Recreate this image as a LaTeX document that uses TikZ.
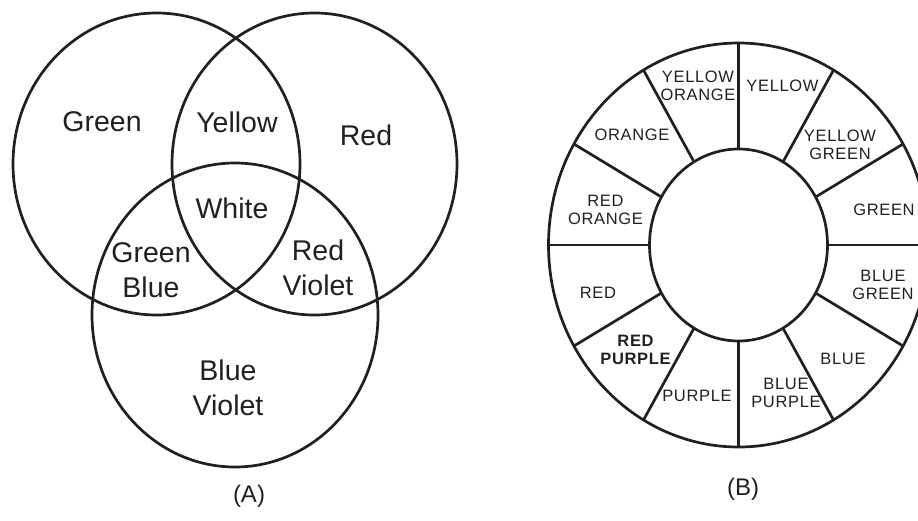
\documentclass[tikz,border=0pt]{standalone}
\usepackage{fontspec}
\setmainfont{Liberation Sans}
\newfontfamily\wheelfont[LetterSpace=4]{Liberation Sans}
\usetikzlibrary{calc}
\definecolor{ink}{HTML}{231F20}
\tikzset{
  ring/.style={draw=ink, line width=2.7pt},
  venntxt/.style={text=ink, font=\fontsize{28.5}{35}\selectfont, align=center, inner sep=0pt},
  wheeltxt/.style={text=ink, font=\wheelfont\fontsize{16.5}{18}\selectfont, align=center, inner sep=0pt},
  captxt/.style={text=ink, font=\fontsize{24}{28}\selectfont, inner sep=0pt}
}
\begin{document}
\begin{tikzpicture}[x=1pt, y=-1pt]
\useasboundingbox (0,0) rectangle (918,520);
\clip (0,0) rectangle (918,520);
% Venn (A)
\coordinate (cg) at (156.5,164);
\coordinate (cr) at (314.5,164);
\coordinate (cb) at (235,315);
\draw[ring] (cg) ellipse [x radius=143.5, y radius=151];
\draw[ring] (cr) ellipse [x radius=142.5, y radius=151];
\draw[ring] (cb) ellipse [x radius=143, y radius=152];
\node[venntxt] (green) at (102,122) {Green};
\node[venntxt] (yellow) at (237,122) {Yellow};
\node[venntxt] (red) at (366,135) {Red};
\node[venntxt] (white) at (232,208) {White};
\node[venntxt] (gb) at (151,270) {Green\\Blue};
\node[venntxt] (rv) at (318,268) {Red\\Violet};
\node[venntxt] (bv) at (228,388) {Blue\\Violet};
\node[captxt] (capA) at (249,496) {(A)};
% Wheel (B)
\coordinate (wc) at (738.5,245);
\draw[ring] (wc) ellipse [x radius=190, y radius=202];
\draw[ring] (wc) ellipse [x radius=89, y radius=96];
\foreach \a in {0,30,...,330}{
  \coordinate (si\a) at ($(wc)+({89*cos(\a)},{-96*sin(\a)})$);
  \coordinate (so\a) at ($(wc)+({190*cos(\a)},{-202*sin(\a)})$);
  \draw[ring] (si\a) -- (so\a);
}
\node[wheeltxt] (yo) at (698,86) {YELLOW\\ORANGE};
\node[wheeltxt] (y) at (782.5,85.5) {YELLOW};
\node[wheeltxt] (yg) at (840,144.5) {YELLOW\\GREEN};
\node[wheeltxt] (g) at (884,210) {GREEN};
\node[wheeltxt] (bg) at (883,284.5) {BLUE\\GREEN};
\node[wheeltxt] (b) at (843,359) {BLUE};
\node[wheeltxt] (bp) at (786,392.5) {BLUE\\PURPLE};
\node[wheeltxt] (p) at (697,396) {PURPLE};
\node[wheeltxt, font=\wheelfont\fontsize{16.5}{18}\selectfont\bfseries] (rp) at (635.5,350) {RED\\PURPLE};
\node[wheeltxt] (r) at (598,293) {RED};
\node[wheeltxt] (ro) at (605.5,210) {RED\\ORANGE};
\node[wheeltxt] (o) at (632,135) {ORANGE};
\node[captxt] (capB) at (743,489) {(B)};
\end{tikzpicture}
\end{document}
